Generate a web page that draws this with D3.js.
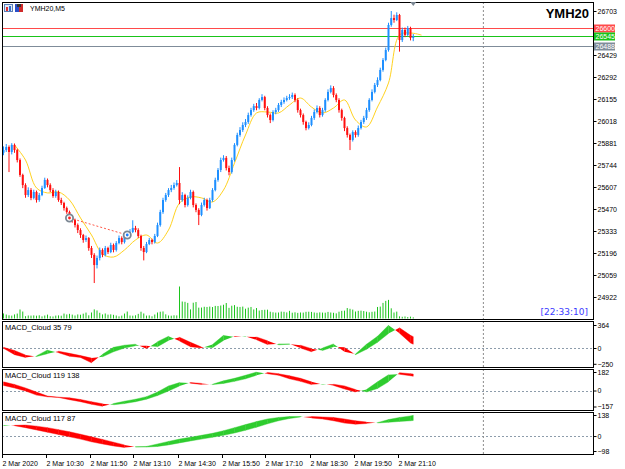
<!DOCTYPE html>
<html>
<head>
<meta charset="utf-8">
<script src="https://cdn.jsdelivr.net/npm/d3@7"></script>
<style>
body { margin: 0; background: #fff; }
svg text { font-family: "Liberation Sans", Arial, sans-serif; }
</style>
</head>
<body>
<script>
// YMH20 M5 bars, 2 Mar 2020
var timeLabels = ["2 Mar 2020", "2 Mar 10:30", "2 Mar 11:50", "2 Mar 13:10", "2 Mar 14:30",
  "2 Mar 15:50", "2 Mar 17:10", "2 Mar 18:30", "2 Mar 19:50", "2 Mar 21:10"];
var timeLabelBars = [0, 16, 32, 48, 64, 80, 96, 112, 128, 144];

var open = [
  25820,25837,25856,25825,25869,25837,25775,25682,25619,25557,
  25588,25539,25576,25526,25557,25601,25651,25619,25588,25551,
  25576,25526,25507,25476,25451,25414,25401,25370,25339,25308,
  25277,25289,25227,25184,25121,25165,25215,25184,25227,25202,
  25246,25215,25258,25289,25264,25302,25308,25327,25352,25339,
  25302,25227,25202,25252,25277,25264,25302,25370,25451,25526,
  25557,25588,25601,25619,25632,25526,25557,25495,25539,25576,
  25495,25464,25433,25495,25526,25476,25526,25588,25651,25713,
  25775,25788,25725,25700,25775,25869,25931,25962,25993,26012,
  26055,26086,26111,26099,26149,26167,26099,26055,26024,26074,
  26086,26118,26136,26149,26161,26167,26180,26149,26086,26055,
  26012,25974,25993,26037,26074,26099,26055,26086,26149,26199,
  26223,26180,26149,26086,26037,25974,25931,25900,25949,25931,
  25974,26012,26037,26086,26149,26199,26242,26273,26336,26398,
  26460,26616,26659,26647,26678,26522,26585,26554,26597,26535];
var high = [
  25860,25875,25866,25880,25878,25845,25785,25690,25630,25605,
  25600,25590,25585,25570,25615,25665,25660,25630,25600,25590,
  25585,25540,25515,25485,25460,25430,25410,25380,25350,25315,
  25305,25295,25240,25195,25180,25230,25225,25240,25235,25260,
  25255,25270,25305,25300,25320,25330,25345,25400,25365,25350,
  25310,25240,25265,25290,25285,25315,25385,25465,25540,25570,
  25600,25620,25635,25650,25731,25575,25565,25555,25590,25585,
  25505,25475,25510,25540,25535,25540,25600,25665,25725,25790,
  25805,25800,25740,25790,25880,25945,25980,26010,26030,26070,
  26100,26125,26130,26160,26185,26175,26110,26065,26085,26100,
  26130,26150,26165,26175,26185,26195,26190,26160,26095,26065,
  26020,26010,26050,26090,26115,26110,26100,26160,26215,26240,
  26235,26190,26160,26095,26045,25985,25940,25960,25960,25990,
  26025,26050,26100,26160,26215,26255,26290,26350,26410,26475,
  26630,26703,26680,26695,26685,26600,26600,26610,26605,26560];
var low = [
  25805,25825,25700,25810,25820,25760,25670,25600,25540,25545,
  25525,25530,25510,25515,25550,25595,25605,25575,25540,25540,
  25515,25495,25460,25440,25400,25385,25355,25320,25290,25260,
  25265,25210,25165,25009,25100,25150,25170,25175,25190,25195,
  25200,25205,25250,25250,25255,25290,25300,25320,25325,25290,
  25210,25150,25195,25245,25250,25255,25295,25360,25440,25515,
  25545,25575,25590,25610,25500,25515,25480,25485,25530,25480,
  25450,25370,25425,25485,25460,25470,25515,25580,25640,25700,
  25765,25710,25680,25690,25765,25860,25920,25950,25980,26000,
  26045,26075,26085,26090,26140,26085,26040,26005,26015,26060,
  26075,26105,26125,26140,26150,26155,26135,26070,26040,25995,
  25960,25965,25985,26025,26065,26040,26045,26075,26140,26190,
  26165,26135,26070,26020,25955,25915,25837,25890,25915,25920,
  25965,26000,26025,26075,26140,26190,26230,26265,26325,26390,
  26450,26605,26630,26640,26450,26510,26540,26545,26520,26515];
var close = [
  25837,25856,25825,25869,25837,25775,25682,25619,25557,25588,
  25539,25576,25526,25557,25601,25651,25619,25588,25551,25576,
  25526,25507,25476,25451,25414,25401,25370,25339,25308,25277,
  25289,25227,25184,25121,25165,25215,25184,25227,25202,25246,
  25215,25258,25289,25264,25302,25308,25327,25352,25339,25302,
  25227,25202,25252,25277,25264,25302,25370,25451,25526,25557,
  25588,25601,25619,25632,25526,25557,25495,25539,25576,25495,
  25464,25433,25495,25526,25476,25526,25588,25651,25713,25775,
  25788,25725,25700,25775,25869,25931,25962,25993,26012,26055,
  26086,26111,26099,26149,26167,26099,26055,26024,26074,26086,
  26118,26136,26149,26161,26167,26180,26149,26086,26055,26012,
  25974,25993,26037,26074,26099,26055,26086,26149,26199,26223,
  26180,26149,26086,26037,25974,25931,25900,25949,25931,25974,
  26012,26037,26086,26149,26199,26242,26273,26336,26398,26460,
  26616,26659,26647,26678,26522,26585,26554,26597,26535,26545];
var volume = [
  520,410,330,300,420,510,930,720,240,310,
  300,320,290,330,220,310,400,230,210,300,
  320,290,510,420,480,400,310,420,390,500,
  610,330,620,940,830,590,420,520,400,430,
  380,310,220,300,510,720,310,290,330,480,
  700,520,300,320,230,410,620,700,730,430,
  310,290,330,320,3300,1750,1720,1610,940,1630,
  1700,1120,1130,1210,1190,1230,1180,1300,1290,1340,
  1420,1600,1100,1320,1380,1210,1190,1230,1010,1120,
  1190,930,1080,820,880,900,910,700,640,610,
  620,710,690,630,790,600,640,580,620,610,
  690,700,680,620,590,630,610,600,680,620,
  590,530,700,790,810,1080,1000,920,720,790,
  810,770,700,640,690,720,1190,1230,1610,1820,
  1920,1050,620,710,220,180,210,150,190,120];

// moving average (drawn shifted forward), sampled every 4 bars
var maBars = [4,8,12,16,20,24,28,32,36,40,44,48,52,56,60,64,68,72,76,80,84,88,92,96,
  100,104,108,112,116,120,124,128,132,136,140,144,148,152];
var maValues = [25869,25775,25601,25570,25576,25526,25414,25308,25190,25171,25215,25277,
  25308,25258,25339,25507,25545,25539,25514,25588,25756,25931,26068,26074,26068,26118,
  26161,26105,26068,26099,26149,26024,25981,26105,26255,26553,26566,26553];

// price levels
var levelPrices = [26600, 26545, 26488];
var priceTicks = [26703, 26429, 26292, 26155, 26018, 25881, 25744, 25607, 25470, 25333, 25196, 25059, 24922];

// trade: sell marker -> buy marker
var tradeBars = [24, 45];
var tradePrices = [25414, 25308];

// MACD_Cloud panels, sampled bars
var macdBars = [0,4,8,12,16,20,24,28,32,36,40,44,48,52,56,60,64,68,72,76,80,84,88,92,96,
  100,104,108,112,116,120,124,128,132,136,140,144,148,149];
var cloud1Main = [-5,-105,-150,-125,-30,-75,-130,-150,-235,-100,10,45,60,-10,100,185,110,20,0,55,
  200,175,185,130,55,65,65,0,-60,0,65,-60,-95,60,185,360,235,80,60];
var cloud1Signal = [10,-40,-110,-135,-90,-50,-85,-120,-160,-140,-60,0,35,35,20,120,170,90,15,5,
  120,185,180,175,115,50,60,45,-10,-40,20,10,-105,-20,90,230,320,200,180];
var cloud2Main = [50,25,-5,-45,-62,-68,-90,-110,-135,-155,-128,-105,-85,-60,-15,45,78,72,60,62,
  95,120,150,182,165,150,115,90,58,65,50,15,-15,10,85,155,160,145,140];
var cloud2Signal = [85,60,25,-15,-55,-65,-72,-88,-110,-130,-140,-128,-110,-85,-50,-5,45,78,70,58,
  70,90,115,150,178,165,145,120,85,58,62,45,10,-15,20,85,175,165,162];
var cloud3Main = [72,68,55,40,25,10,-5,-20,-38,-52,-65,-75,-70,-68,-52,-35,-20,-8,5,18,
  35,55,75,95,112,122,128,128,118,112,100,85,78,82,88,108,122,132,136];
var cloud3Signal = [68,70,72,65,55,42,28,12,-5,-22,-40,-58,-72,-72,-68,-58,-45,-32,-20,-8,
  5,20,38,58,80,100,115,125,128,125,122,112,100,92,86,90,96,100,102];

var W = 625, H = 469;
var plotLeft = 2, plotRight = 593;
var shiftBar = 174.5;

var svg = d3.select('body').append('svg')
    .attr('width', W)
    .attr('height', H)
    .style('display', 'block');

svg.append('rect').attr('width', W).attr('height', H).attr('fill', '#fff');

var x = d3.scaleLinear().domain([0, 149]).range([3.5, 413.25]);

var panels = [
  {top: 2, bottom: 319},
  {top: 321, bottom: 367, title: 'MACD_Cloud 35 79', ticks: [364, 0, -250], range: [363.8, 325],
    main: cloud1Main, signal: cloud1Signal},
  {top: 369, bottom: 410, title: 'MACD_Cloud 119 138', ticks: [182, 0, -157], range: [406.5, 372],
    main: cloud2Main, signal: cloud2Signal},
  {top: 412, bottom: 454, title: 'MACD_Cloud 117 87', ticks: [138, 0, -98], range: [451, 415],
    main: cloud3Main, signal: cloud3Signal}
];

var y = d3.scaleLinear().domain([24922, 26703]).range([297, 11]);

var defs = svg.append('defs');
panels.forEach(function(p, k) {
  defs.append('clipPath').attr('id', 'clip' + k)
    .append('rect')
      .attr('x', plotLeft + 1).attr('y', p.top + 1)
      .attr('width', plotRight - plotLeft - 1).attr('height', p.bottom - p.top - 1);
});

// ---- main panel ----
var main = svg.append('g').attr('clip-path', 'url(#clip0)');

var vol = d3.scaleLinear().domain([0, d3.max(volume)]).range([0, 32]);
main.append('g').selectAll('rect')
  .data(volume)
  .enter().append('rect')
    .attr('x', function(d, i) { return x(i) - 0.5; })
    .attr('y', function(d) { return 318.5 - vol(d); })
    .attr('width', 1)
    .attr('height', function(d) { return vol(d); })
    .attr('fill', '#1cc41c');

main.append('line')
    .attr('x1', x(shiftBar)).attr('x2', x(shiftBar))
    .attr('y1', 2).attr('y2', 319)
    .attr('stroke', '#8c8c8c').attr('stroke-dasharray', '2,2');

var levelColors = ['#ff4a4a', '#19c419', '#7f8c99'];
main.append('g').selectAll('line')
  .data(levelPrices)
  .enter().append('line')
    .attr('x1', plotLeft).attr('x2', plotRight)
    .attr('y1', function(d) { return Math.round(y(d)) + 0.5; })
    .attr('y2', function(d) { return Math.round(y(d)) + 0.5; })
    .attr('stroke', function(d, i) { return levelColors[i]; });

var maLine = d3.line()
    .x(function(d, i) { return x(maBars[i]); })
    .y(function(d) { return y(d); })
    .curve(d3.curveCatmullRom);
main.append('path')
    .attr('d', maLine(maValues))
    .attr('fill', 'none')
    .attr('stroke', '#ffd21f')
    .attr('stroke-width', 1);

var candle = main.append('g').selectAll('g')
  .data(close)
  .enter().append('g');
function candleColor(i) { return close[i] >= open[i] ? '#1e8fff' : '#ff1010'; }
candle.append('rect')
    .attr('x', function(d, i) { return x(i) - 0.5; })
    .attr('y', function(d, i) { return y(high[i]); })
    .attr('width', 1)
    .attr('height', function(d, i) { return y(low[i]) - y(high[i]); })
    .attr('fill', function(d, i) { return candleColor(i); });
candle.append('rect')
    .attr('x', function(d, i) { return x(i) - 1; })
    .attr('y', function(d, i) { return y(Math.max(open[i], close[i])); })
    .attr('width', 2)
    .attr('height', function(d, i) { return Math.max(1, Math.abs(y(open[i]) - y(close[i]))); })
    .attr('fill', function(d, i) { return candleColor(i); });

// trade line and markers
main.append('line')
    .attr('x1', x(tradeBars[0])).attr('y1', y(tradePrices[0]))
    .attr('x2', x(tradeBars[1])).attr('y2', y(tradePrices[1]))
    .attr('stroke', '#ff5a4a').attr('stroke-dasharray', '2,2');
var marker = main.append('g').selectAll('g')
  .data(tradeBars)
  .enter().append('g')
    .attr('transform', function(d, i) { return 'translate(' + x(d) + ',' + y(tradePrices[i]) + ')'; });
marker.append('circle').attr('r', 3.6).attr('fill', '#fff').attr('stroke', '#7b8793').attr('stroke-width', 1.8);
marker.append('circle').attr('r', 1.4).attr('fill', function(d, i) { return i === 0 ? '#ff2020' : '#1e7fff'; });

// ---- MACD cloud panels ----
function drawCloud(g, sy, m, s) {
  for (var k = 0; k < macdBars.length - 1; k++) {
    var x0 = x(macdBars[k]), x1 = x(macdBars[k + 1]);
    var d0 = m[k] - s[k], d1 = m[k + 1] - s[k + 1];
    if (d0 * d1 < 0) {
      var t = d0 / (d0 - d1);
      var xc = x0 + t * (x1 - x0), vc = m[k] + t * (m[k + 1] - m[k]);
      g.append('path')
        .attr('d', 'M' + x0 + ',' + sy(m[k]) + 'L' + xc + ',' + sy(vc) + 'L' + x0 + ',' + sy(s[k]) + 'Z')
        .attr('fill', d0 > 0 ? '#2ecc2e' : '#ff0000');
      g.append('path')
        .attr('d', 'M' + xc + ',' + sy(vc) + 'L' + x1 + ',' + sy(m[k + 1]) + 'L' + x1 + ',' + sy(s[k + 1]) + 'Z')
        .attr('fill', d1 > 0 ? '#2ecc2e' : '#ff0000');
    } else {
      g.append('path')
        .attr('d', 'M' + x0 + ',' + sy(m[k]) + 'L' + x1 + ',' + sy(m[k + 1]) +
                   'L' + x1 + ',' + sy(s[k + 1]) + 'L' + x0 + ',' + sy(s[k]) + 'Z')
        .attr('fill', (d0 + d1) >= 0 ? '#2ecc2e' : '#ff0000')
        .attr('stroke', (d0 + d1) >= 0 ? '#2ecc2e' : '#ff0000')
        .attr('stroke-width', 0.4);
    }
  }
}

panels.slice(1).forEach(function(p, k) {
  var sy = d3.scaleLinear().domain([p.ticks[2], p.ticks[0]]).range(p.range);
  var g = svg.append('g').attr('clip-path', 'url(#clip' + (k + 1) + ')');
  g.append('line')
      .attr('x1', plotLeft).attr('x2', plotRight)
      .attr('y1', Math.round(sy(0)) + 0.5).attr('y2', Math.round(sy(0)) + 0.5)
      .attr('stroke', '#8d9cab').attr('stroke-dasharray', '2,2');
  g.append('line')
      .attr('x1', x(shiftBar)).attr('x2', x(shiftBar))
      .attr('y1', p.top).attr('y2', p.bottom)
      .attr('stroke', '#8c8c8c').attr('stroke-dasharray', '2,2');
  drawCloud(g, sy, p.main, p.signal);

  svg.append('text')
      .attr('x', 5).attr('y', p.top + 9)
      .attr('font-size', '7.5px')
      .text(p.title);

  var ax = svg.append('g')
      .attr('transform', 'translate(' + (plotRight + 0.5) + ',0)')
      .call(d3.axisRight(sy).tickValues(p.ticks).tickSize(3).tickPadding(1).tickFormat(d3.format('d')));
  ax.select('.domain').remove();
  ax.selectAll('text').attr('font-size', '7px').attr('fill', '#000');
});

// panel frames
svg.append('g').selectAll('rect')
  .data(panels)
  .enter().append('rect')
    .attr('x', plotLeft + 0.5).attr('y', function(d) { return d.top + 0.5; })
    .attr('width', plotRight - plotLeft)
    .attr('height', function(d) { return d.bottom - d.top; })
    .attr('fill', 'none').attr('stroke', '#000');

// main price axis
var pax = svg.append('g')
    .attr('transform', 'translate(' + (plotRight + 0.5) + ',0)')
    .call(d3.axisRight(y).tickValues(priceTicks).tickSize(3).tickPadding(1).tickFormat(d3.format('d')));
pax.select('.domain').remove();
pax.selectAll('text').attr('font-size', '7px').attr('fill', '#000');

// level labels
var lvl = svg.append('g').selectAll('g')
  .data(levelPrices)
  .enter().append('g')
    .attr('transform', function(d) { return 'translate(' + (plotRight + 1) + ',' + Math.round(y(d)) + ')'; });
lvl.append('rect')
    .attr('x', 0).attr('y', -3.5).attr('width', 21).attr('height', 8)
    .attr('fill', function(d, i) { return levelColors[i]; });
lvl.append('text')
    .attr('x', 1.5).attr('y', 3)
    .attr('font-size', '7px').attr('fill', '#fff')
    .text(function(d) { return d; });

// time axis
var tax = svg.append('g').selectAll('g')
  .data(timeLabels)
  .enter().append('g')
    .attr('transform', function(d, i) { return 'translate(' + (Math.round(x(timeLabelBars[i])) - 1.5) + ',454)'; });
tax.append('line').attr('x1', 0).attr('x2', 0).attr('y1', 0).attr('y2', 4).attr('stroke', '#000');
tax.append('text')
    .attr('x', 0).attr('y', 11.5)
    .attr('font-size', '7px')
    .text(function(d) { return d; });

// header
var icons = svg.append('g').attr('transform', 'translate(4,4)');
icons.append('rect').attr('x', 0.5).attr('y', 0.5).attr('width', 8).attr('height', 7).attr('fill', '#dfe9f7').attr('stroke', '#5a7fb8');
icons.append('rect').attr('x', 2).attr('y', 3).attr('width', 2).attr('height', 4).attr('fill', '#e03030');
icons.append('rect').attr('x', 5).attr('y', 2).attr('width', 2).attr('height', 5).attr('fill', '#2f6fd0');
icons.append('rect').attr('x', 11).attr('y', 0).attr('width', 4).attr('height', 8).attr('fill', '#2a4fc8');
icons.append('rect').attr('x', 15).attr('y', 0).attr('width', 4).attr('height', 8).attr('fill', '#d02a2a');
icons.append('rect').attr('x', 13).attr('y', 0).attr('width', 4).attr('height', 3).attr('fill', '#333');

svg.append('text')
    .attr('x', 30).attr('y', 11)
    .attr('font-size', '7px')
    .text('YMH20,M5');

svg.append('text')
    .attr('x', 589).attr('y', 18)
    .attr('text-anchor', 'end')
    .attr('font-size', '13px').attr('font-weight', 'bold')
    .text('YMH20');

svg.append('text')
    .attr('x', 588).attr('y', 315)
    .attr('text-anchor', 'end')
    .attr('font-size', '9px')
    .attr('fill', '#3b3bff')
    .style('font-family', '"DejaVu Sans", sans-serif')
    .text('[22:33:10]');

// chart end marker
svg.append('path')
    .attr('d', 'M' + (x(149) - 3) + ',2L' + (x(149) + 3) + ',2L' + x(149) + ',6Z')
    .attr('fill', '#7b8793');
</script>
</body>
</html>
